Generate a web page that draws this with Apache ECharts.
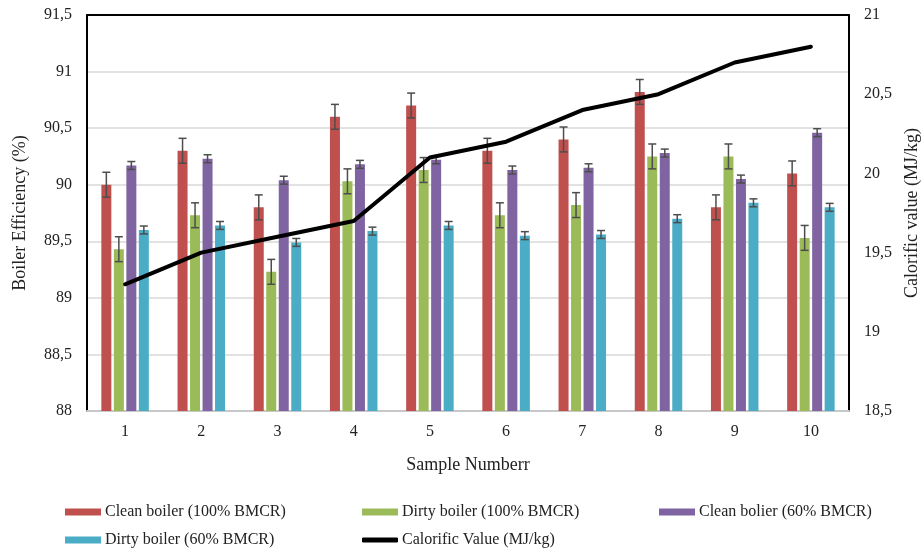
<!DOCTYPE html>
<html>
<head>
<meta charset="utf-8">
<script src="https://cdn.jsdelivr.net/npm/echarts@6/dist/echarts.min.js"></script>
<style>
html,body{margin:0;padding:0;background:#fff;}
#chart{width:921px;height:551px;}
</style>
</head>
<body>
<div id="chart"></div>
<script>
var categories = ['1','2','3','4','5','6','7','8','9','10'];
var clean100 = [90.0, 90.3, 89.8, 90.6, 90.7, 90.3, 90.4, 90.82, 89.8, 90.1];
var dirty100 = [89.43, 89.73, 89.23, 90.03, 90.13, 89.73, 89.82, 90.25, 90.25, 89.53];
var clean60 = [90.17, 90.23, 90.04, 90.18, 90.22, 90.13, 90.15, 90.28, 90.05, 90.46];
var dirty60 = [89.6, 89.64, 89.49, 89.59, 89.64, 89.55, 89.56, 89.7, 89.84, 89.8];
var calorific = [19.3, 19.5, 19.6, 19.7, 20.1, 20.2, 20.4, 20.5, 20.7, 20.8];
var errClean100 = [0.11, 0.11, 0.11, 0.11, 0.11, 0.11, 0.11, 0.11, 0.11, 0.11];
var errDirty100 = [0.11, 0.11, 0.11, 0.11, 0.11, 0.11, 0.11, 0.11, 0.11, 0.11];
var errClean60 = [0.035, 0.035, 0.035, 0.035, 0.035, 0.035, 0.035, 0.035, 0.035, 0.035];
var errDirty60 = [0.035, 0.035, 0.035, 0.035, 0.035, 0.035, 0.035, 0.035, 0.035, 0.035];
var names = ['Clean boiler (100% BMCR)', 'Dirty boiler (100% BMCR)', 'Clean bolier (60% BMCR)', 'Dirty boiler (60% BMCR)', 'Calorific Value (MJ/kg)'];
var yLeftTicks = {min: 88, max: 91.5, step: 0.5};
var yRightTicks = {min: 18.5, max: 21, step: 0.5};

var colors = ['#C0504D', '#9BBB59', '#8064A2', '#4BACC6'];
var FONT = 'Liberation Serif';
var BAR_W = 10, BAR_GAP = 2.5;
var offsets = [-1.5, -0.5, 0.5, 1.5].map(function(k){ return k * (BAR_W + BAR_GAP); });

function fmt(v){ return String(v).replace('.', ','); }

function errSeries(vals, errs, idx){
  return {
    type: 'custom',
    xAxisIndex: 0, yAxisIndex: 0,
    z: 5,
    silent: true,
    data: vals.map(function(v, i){ return [i, v, errs[i]]; }),
    renderItem: function(params, api){
      var i = api.value(0), v = api.value(1), e = api.value(2);
      var top = api.coord([i, v + e]);
      var bot = api.coord([i, v - e]);
      var x = top[0] + offsets[idx];
      var hw = 4;
      var st = {stroke: '#4d4d4d', lineWidth: 1.5};
      return {type: 'group', children: [
        {type: 'line', shape: {x1: x, y1: top[1], x2: x, y2: bot[1]}, style: st},
        {type: 'line', shape: {x1: x - hw, y1: top[1], x2: x + hw, y2: top[1]}, style: st},
        {type: 'line', shape: {x1: x - hw, y1: bot[1], x2: x + hw, y2: bot[1]}, style: st}
      ]};
    }
  };
}

function barSeries(name, vals, idx){
  return {
    name: name, type: 'bar', xAxisIndex: 0, yAxisIndex: 0,
    data: vals, barWidth: BAR_W, barGap: '25%',
    itemStyle: {color: colors[idx]}, z: 2
  };
}

var legendPos = [[65, 504], [362, 504], [659, 504], [65, 532], [362, 532]];
var legends = names.map(function(n, k){
  var isLine = k === 4;
  return {
    data: [n], left: legendPos[k][0], top: legendPos[k][1],
    itemWidth: 36, itemHeight: isLine ? 5 : 7, itemGap: 4,
    icon: isLine ? 'roundRect' : 'rect',
    textStyle: {fontFamily: FONT, fontSize: 16, color: '#222', padding: [0,0,0,-1]},
    padding: 0, selectedMode: false
  };
});

var option = {
  animation: false,
  backgroundColor: '#fff',
  grid: {left: 87, right: 72, top: 15, bottom: 140, containLabel: false, outerBoundsMode: 'none'},
  legend: legends,
  xAxis: [
    {type: 'category', data: categories, position: 'bottom',
     name: 'Sample Numberr', nameLocation: 'middle', nameGap: 45,
     nameTextStyle: {fontFamily: FONT, fontSize: 18, color: '#222'},
     axisLine: {show: true, lineStyle: {color: '#c8c8c8', width: 2}},
     axisTick: {show: false},
     axisLabel: {fontFamily: FONT, fontSize: 16, color: '#222', margin: 13}},
    {type: 'category', data: categories, position: 'top',
     axisLine: {show: true, lineStyle: {color: '#000', width: 2}},
     axisTick: {show: false}, axisLabel: {show: false}, splitLine: {show: false}}
  ],
  yAxis: [
    {type: 'value', min: yLeftTicks.min, max: yLeftTicks.max, interval: yLeftTicks.step,
     name: 'Boiler Efficiency (%)', nameLocation: 'middle', nameGap: 58, nameRotate: 90,
     nameTextStyle: {fontFamily: FONT, fontSize: 18, color: '#222'},
     axisLine: {show: true, lineStyle: {color: '#000', width: 2}},
     axisTick: {show: false},
     axisLabel: {fontFamily: FONT, fontSize: 16, color: '#222', margin: 15, formatter: fmt},
     splitLine: {show: true, lineStyle: {color: '#d9d9d9', width: 1.5}}},
    {type: 'value', min: yRightTicks.min, max: yRightTicks.max, interval: yRightTicks.step,
     position: 'right',
     name: 'Calorific value (MJ/kg)', nameLocation: 'middle', nameGap: 47, nameRotate: 90,
     nameTextStyle: {fontFamily: FONT, fontSize: 18, color: '#222'},
     axisLine: {show: true, lineStyle: {color: '#000', width: 2}},
     axisTick: {show: false},
     axisLabel: {fontFamily: FONT, fontSize: 16, color: '#222', margin: 15, formatter: fmt},
     splitLine: {show: false}}
  ],
  series: [
    barSeries(names[0], clean100, 0),
    barSeries(names[1], dirty100, 1),
    barSeries(names[2], clean60, 2),
    barSeries(names[3], dirty60, 3),
    errSeries(clean100, errClean100, 0),
    errSeries(dirty100, errDirty100, 1),
    errSeries(clean60, errClean60, 2),
    errSeries(dirty60, errDirty60, 3),
    {name: names[4], type: 'line', xAxisIndex: 0, yAxisIndex: 1, data: calorific,
     symbol: 'none', z: 10, itemStyle: {color: '#000'},
     lineStyle: {color: '#000', width: 4, cap: 'round', join: 'round'}}
  ]
};

var chart = echarts.init(document.getElementById('chart'), null, {renderer: 'canvas'});
chart.setOption(option);
</script>
</body>
</html>
